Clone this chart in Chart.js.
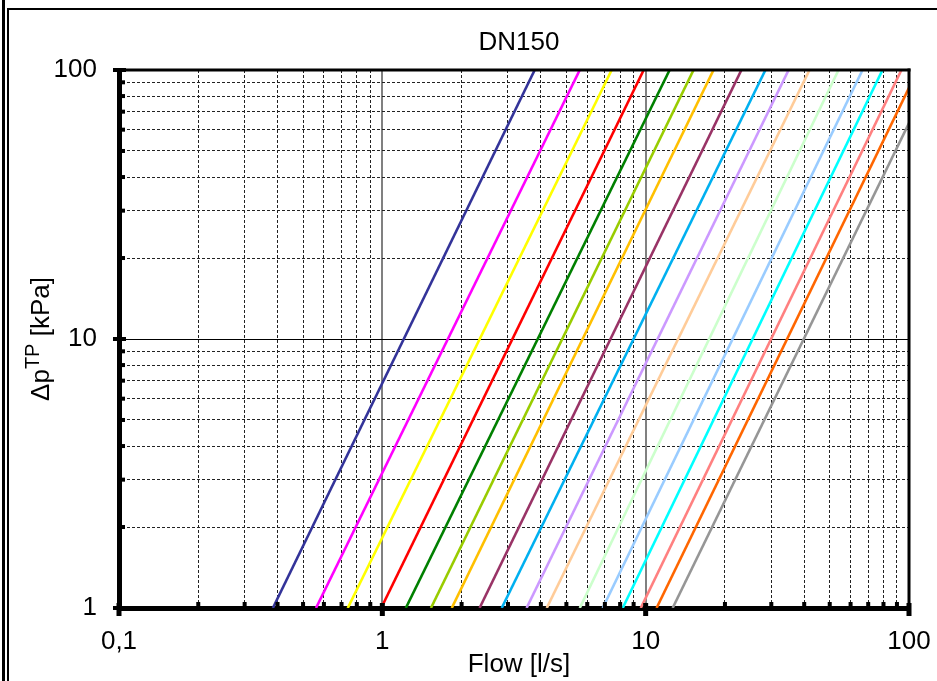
<!DOCTYPE html>
<html>
<head>
<meta charset="utf-8">
<title>DN150</title>
<script src="https://cdn.jsdelivr.net/npm/chart.js@4.4.1/dist/chart.umd.min.js"></script>
<style>
  html, body { margin: 0; padding: 0; background: #fff; }
  canvas { display: block; }
</style>
</head>
<body>
<canvas id="myChart" width="937" height="681"></canvas>
<script>
const ctx = document.getElementById("myChart");

// flow [l/s] where each curve leaves the 1 kPa line
const flowAtBottom = [0.384, 0.56, 0.739, 0.99, 1.228, 1.53, 1.835, 2.34, 2.84, 3.53, 4.21, 5.62, 6.87, 8.18, 9.58, 11.0, 12.66];
// flow [l/s] and pressure drop [kPa] where each curve leaves the plot
const flowAtEnd = [3.79, 5.62, 7.43, 9.83, 12.33, 15.2, 18.1, 23.1, 28.5, 34.9, 41.9, 54.0, 66.6, 79.3, 93.6, 100, 100];
const dpAtEnd = [100, 100, 100, 100, 100, 100, 100, 100, 100, 100, 100, 100, 100, 100, 100, 85.8, 63.5];
const dpAtBottom = 1;

const lineColors = [
  "#333399", "#ff00ff", "#ffff00", "#ff0000", "#008000", "#99cc00",
  "#ffc000", "#993366", "#00b0f0", "#cc99ff", "#ffcc99", "#ccffcc",
  "#99ccff", "#00ffff", "#ff8080", "#ff6600", "#969696"
];

const xTickValues = [0.1, 1, 10, 100];
const xTickLabels = ["0,1", "1", "10", "100"];
const yTickValues = [1, 10, 100];
const yTickLabels = ["1", "10", "100"];
const minorSteps = [1, 2, 3, 4, 5, 6, 7, 8, 9];

const FONT = "'Liberation Sans', Arial, sans-serif";

function decadeTicks(majors) {
  let out = [];
  for (let i = 0; i < majors.length - 1; i++) {
    minorSteps.forEach((s) => out.push({ value: majors[i] * s }));
  }
  out.push({ value: majors[majors.length - 1] });
  return out;
}

function majorIndex(majors, v) {
  return majors.findIndex((m) => Math.abs(m - v) < m * 1e-6);
}

// outer frame, title, axis titles, top/right border, tick marks
const decorations = {
  id: "decorations",
  beforeDraw(chart) {
    const c = chart.ctx;
    c.save();
    c.fillStyle = "#fff";
    c.fillRect(0, 0, chart.width, chart.height);
    c.fillStyle = "#000";
    c.fillRect(2, 0, 3, chart.height);
    c.fillRect(7, 8, 2, chart.height - 8);
    c.fillRect(7, 8, chart.width - 7, 2);
    c.restore();
  },
  afterDraw(chart) {
    const c = chart.ctx;
    const a = chart.chartArea;
    const xs = chart.scales.x;
    const ys = chart.scales.y;
    c.save();
    c.fillStyle = "#000";
    c.fillRect(a.left, a.top - 1.5, a.right - a.left + 1.5, 3);
    c.fillRect(a.right - 1.5, a.top - 1.5, 3, a.bottom - a.top + 1.5);

    xs.ticks.forEach((t) => {
      const px = xs.getPixelForValue(t.value);
      if (majorIndex(xTickValues, t.value) >= 0) c.fillRect(px - 2.5, a.bottom - 5, 5, 13);
      else c.fillRect(px - 2, a.bottom - 6, 4, 6);
    });
    ys.ticks.forEach((t) => {
      const py = ys.getPixelForValue(t.value);
      if (majorIndex(yTickValues, t.value) >= 0) c.fillRect(a.left - 6, py - 2, 13, 4);
      else c.fillRect(a.left, py - 2, 6, 4);
    });

    c.textAlign = "center";
    c.textBaseline = "alphabetic";
    c.font = "26px " + FONT;
    c.fillText("DN150", 519, 50);
    c.fillText("Flow [l/s]", 519, 672);

    // y title with superscript
    c.translate(40, (a.top + a.bottom) / 2);
    c.rotate(-Math.PI / 2);
    c.textAlign = "left";
    const big = "26px " + FONT;
    const small = "20px " + FONT;
    c.font = big;
    const w1 = c.measureText("\u0394p").width;
    const w3 = c.measureText(" [kPa]").width;
    c.font = small;
    const w2 = c.measureText("TP").width;
    let x0 = -(w1 + w2 + w3) / 2;
    c.font = big;
    c.fillText("\u0394p", x0, 8.5);
    c.font = small;
    c.fillText("TP", x0 + w1, -1);
    c.font = big;
    c.fillText(" [kPa]", x0 + w1 + w2, 8.5);
    c.restore();
  }
};

function gridColor(majors, majorColor) {
  return (c) => (c.tick && majorIndex(majors, c.tick.value) >= 0 ? majorColor : "#222");
}

const datasets = flowAtBottom.map((q, i) => ({
  data: [{ x: q, y: dpAtBottom }, { x: flowAtEnd[i], y: dpAtEnd[i] }],
  borderColor: lineColors[i],
  borderWidth: 2.6,
  pointRadius: 0,
  showLine: true,
  fill: false,
}));

new Chart(ctx, {
  type: "scatter",
  data: { datasets: datasets },
  options: {
    responsive: false,
    devicePixelRatio: 1,
    animation: false,
    layout: { padding: { top: 70, right: 28, left: 0, bottom: 0 } },
    plugins: { legend: { display: false }, tooltip: { enabled: false } },
    scales: {
      x: {
        type: "logarithmic",
        min: 0.1,
        max: 100,
        afterBuildTicks: (s) => { s.ticks = decadeTicks(xTickValues); },
        afterFit: (s) => { s.height = 73; s.paddingRight = 0; s.paddingLeft = 0; },
        ticks: {
          autoSkip: false,
          maxRotation: 0,
          padding: 18,
          color: "#000",
          font: { family: FONT, size: 26 },
          callback: (v) => { const k = majorIndex(xTickValues, v); return k >= 0 ? xTickLabels[k] : ""; },
        },
        grid: {
          drawTicks: false,
          color: gridColor(xTickValues, "#808080"),
          lineWidth: (c) => (c.tick && majorIndex(xTickValues, c.tick.value) >= 0 ? 2 : 1),
        },
        border: {
          color: "#000",
          width: 5,
          dash: (c) => (c.tick && majorIndex(xTickValues, c.tick.value) < 0 ? [3, 2] : []),
        },
      },
      y: {
        type: "logarithmic",
        min: 1,
        max: 100,
        afterBuildTicks: (s) => { s.ticks = decadeTicks(yTickValues); },
        afterFit: (s) => { s.width = 119; s.paddingTop = 0; s.paddingBottom = 0; },
        ticks: {
          autoSkip: false,
          padding: 22,
          color: "#000",
          font: { family: FONT, size: 26 },
          callback: (v) => { const k = majorIndex(yTickValues, v); return k >= 0 ? yTickLabels[k] : ""; },
        },
        grid: {
          drawTicks: false,
          color: gridColor(yTickValues, "#000"),
          lineWidth: 1,
        },
        border: {
          color: "#000",
          width: 5,
          dash: (c) => (c.tick && majorIndex(yTickValues, c.tick.value) < 0 ? [3, 2] : []),
        },
      },
    },
  },
  plugins: [decorations],
});
</script>
</body>
</html>
